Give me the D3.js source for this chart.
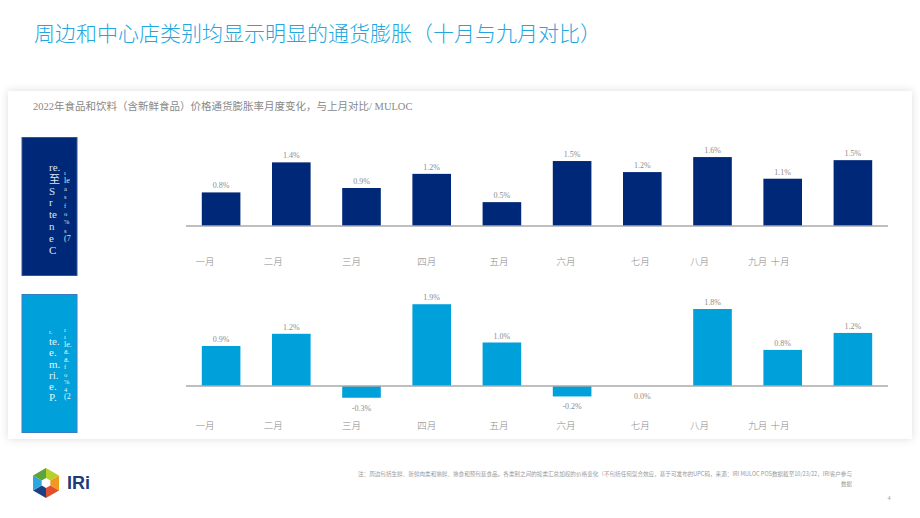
<!DOCTYPE html>
<html>
<head>
<meta charset="utf-8">
<script src="https://cdn.jsdelivr.net/npm/d3@7"></script>
<style>
  body { margin: 0; background: #fff; }
  svg { display: block; }
</style>
</head>
<body>
<div class="canvas"></div>
<script>
// data
const months = ['一月', '二月', '三月', '四月', '五月', '六月', '七月', '八月', '九月', '十月'];
const perimeter = [0.76, 1.44, 0.86, 1.18, 0.54, 1.47, 1.22, 1.56, 1.07, 1.49];
const centerStore = [0.92, 1.20, -0.27, 1.88, 1.00, -0.24, 0.00, 1.77, 0.83, 1.22];

// the month labels sit off the bar centres in the original slide
const tickShift = [-16, -18, -10, -5, -3, -6, -2, -13, -25, -73];

// (garbled) category box labels, as they appear
const topColA = ['re.', '至', 'S', 'r', 'te', 'n', 'e', 'C'];
const topColB = ['ı', 'le', 'a', 's', 'f', 'o', '%', 's', '(7'];
const botColA = ['r.', 'te.', 'e.', 'm.', 'ri.', 'e.', 'P.'];
const botColB = ['ı', 'ı', 'le.', 'a.', 'a.', 'f', 'o', '%', '4', '(2'];

const title = '周边和中心店类别均显示明显的通货膨胀（十月与九月对比）';
const subtitle = '2022年食品和饮料（含新鲜食品）价格通货膨胀率月度变化，与上月对比/ MULOC';
const note1 = '注：周边包括生鲜、新鲜肉类和熟鲜、熟食和预包装食品。各类别之间的按类汇总加权的价格变化（不包括任何混合效应，基于可发布的UPC码，来源：IRI MULOC POS数据截至10/23/22，IRI客户参与';
const note2 = '数据';

const serif = '"Liberation Serif", "Noto Sans CJK SC", serif';
const cjk = '"Noto Sans CJK SC", "Noto Sans", sans-serif';

const svg = d3.select('.canvas')
  .append('svg')
  .attr('width', 920)
  .attr('height', 518);

// card shadow
const defs = svg.append('defs');
const f = defs.append('filter').attr('id', 'shadow')
  .attr('x', '-5%').attr('y', '-5%').attr('width', '110%').attr('height', '110%');
f.append('feDropShadow')
  .attr('dx', 0).attr('dy', 0).attr('stdDeviation', 4)
  .attr('flood-color', '#000').attr('flood-opacity', 0.14);

svg.append('rect')
  .attr('x', 8).attr('y', 91)
  .attr('width', 904).attr('height', 348)
  .attr('fill', '#fff')
  .attr('filter', 'url(#shadow)');

// title
svg.append('text')
  .attr('x', 34).attr('y', 41)
  .attr('font-family', cjk)
  .attr('font-weight', 300)
  .attr('font-size', 21)
  .attr('fill', '#22a6de')
  .text(title);

svg.append('text')
  .attr('x', 33).attr('y', 110)
  .attr('font-family', serif)
  .attr('font-size', 10.5)
  .attr('fill', '#888')
  .text(subtitle);

// shared x scale
const x = d3.scaleBand()
  .domain(months)
  .range([186, 888])
  .paddingInner(0.45)
  .paddingOuter(0.225);

const fmt = v => (Math.round(v * 10) / 10).toFixed(1) + '%';

const drawPanel = (values, y, color, labelTop) => {
  const g = svg.append('g');
  const y0 = y(0);

  g.selectAll('rect.bar')
    .data(values)
    .enter()
    .append('rect')
    .attr('class', 'bar')
    .attr('x', (d, i) => x(months[i]))
    .attr('width', x.bandwidth())
    .attr('y', d => Math.min(y(d), y0))
    .attr('height', d => Math.abs(y(d) - y0))
    .attr('fill', color);

  g.append('line')
    .attr('x1', x.range()[0]).attr('x2', x.range()[1])
    .attr('y1', y0).attr('y2', y0)
    .attr('stroke', '#aaa')
    .attr('stroke-width', 1.5);

  g.selectAll('text.val')
    .data(values)
    .enter()
    .append('text')
    .attr('class', 'val')
    .attr('x', (d, i) => x(months[i]) + x.bandwidth() / 2)
    .attr('y', d => d > 0 ? y(d) - 4 : Math.max(y(d), y0) + 13)
    .attr('text-anchor', 'middle')
    .attr('font-family', serif)
    .attr('font-size', 8)
    .attr('fill', '#8c8c8c')
    .text(d => fmt(d));

  const xAxis = d3.axisBottom(x).tickSize(0).tickPadding(0);
  const axisGroup = g.append('g')
    .attr('transform', `translate(0, ${labelTop})`)
    .call(xAxis);
  axisGroup.select('.domain').remove();
  axisGroup.selectAll('text')
    .attr('dx', (d, i) => tickShift[i])
    .attr('font-family', cjk)
    .attr('font-weight', 300)
    .attr('font-size', 9.5)
    .attr('fill', '#888');
};

const yTop = d3.scaleLinear().domain([0, 1.6]).range([226, 155.3]);
const yBot = d3.scaleLinear().domain([-0.3, 1.9]).range([399.05, 303.35]);

drawPanel(perimeter, yTop, '#002878', 258);
drawPanel(centerStore, yBot, '#00a0da', 422);

// category boxes
const box = (y, h, fill, stroke, colA, stepA, colB, stepB, startA, startB, txt) => {
  svg.append('rect')
    .attr('x', 22).attr('y', y)
    .attr('width', 55).attr('height', h)
    .attr('fill', fill)
    .attr('stroke', stroke)
    .attr('stroke-width', 1);
  svg.append('g').selectAll('text')
    .data(colA).enter().append('text')
    .attr('x', 49)
    .attr('y', (d, i) => startA + i * stepA)
    .attr('font-family', serif)
    .attr('font-size', (d, i) => d === 'r.' && i === 0 && stepA < 11.5 ? 6 : 11)
    .attr('fill', txt)
    .text(d => d);
  svg.append('g').selectAll('text')
    .data(colB).enter().append('text')
    .attr('x', 64)
    .attr('y', (d, i) => startB + i * stepB)
    .attr('font-family', serif)
    .attr('font-size', d => d.length > 1 ? 8 : 6.5)
    .attr('fill', txt)
    .text(d => d);
};

box(137.5, 138, '#002878', '#34559a', topColA, 11.8, topColB, 8.3, 171, 174.5, '#dde4f0');
box(294.5, 138, '#00a0da', '#3b7cc6', botColA, 11.2, botColB, 7.5, 334, 331.5, '#e2f4fb');

// footer note
svg.append('text')
  .attr('x', 358).attr('y', 476)
  .attr('font-family', cjk)
  .attr('font-size', 5.5)
  .attr('fill', '#999')
  .attr('textLength', 494)
  .attr('lengthAdjust', 'spacingAndGlyphs')
  .text(note1);
svg.append('text')
  .attr('x', 852).attr('y', 485.5)
  .attr('text-anchor', 'end')
  .attr('font-family', cjk)
  .attr('font-size', 5.5)
  .attr('fill', '#999')
  .text(note2);
svg.append('text')
  .attr('x', 889).attr('y', 500)
  .attr('text-anchor', 'middle')
  .attr('font-family', serif)
  .attr('font-size', 6)
  .attr('fill', '#999')
  .text('4');

// IRI logo
const logo = svg.append('g').attr('transform', 'translate(46, 483)');
const R = 15;
const hx = (a) => [R * Math.cos(a), R * Math.sin(a)];
const pts = d3.range(6).map(k => hx(-Math.PI / 2 + k * Math.PI / 3));
const logoColors = ['#b7d12c', '#f29a1f', '#e1502c', '#1c3f86', '#2aa8df', '#5ba33b'];
pts.forEach((p, k) => {
  const q = pts[(k + 1) % 6];
  logo.append('path')
    .attr('d', `M0,0L${p[0]},${p[1]}L${q[0]},${q[1]}Z`)
    .attr('fill', logoColors[k]);
});
logo.append('path')
  .attr('d', d3.range(6).map(k => {
    const a = -Math.PI / 2 + k * Math.PI / 3;
    return (k ? 'L' : 'M') + (5 * Math.cos(a)) + ',' + (5 * Math.sin(a));
  }).join('') + 'Z')
  .attr('fill', '#fff');

svg.append('text')
  .attr('x', 67).attr('y', 489)
  .attr('font-family', '"Liberation Sans", Arial, sans-serif')
  .attr('font-weight', 700)
  .attr('font-size', 18)
  .attr('fill', '#1c3a7c')
  .text('IRi');
</script>
</body>
</html>
